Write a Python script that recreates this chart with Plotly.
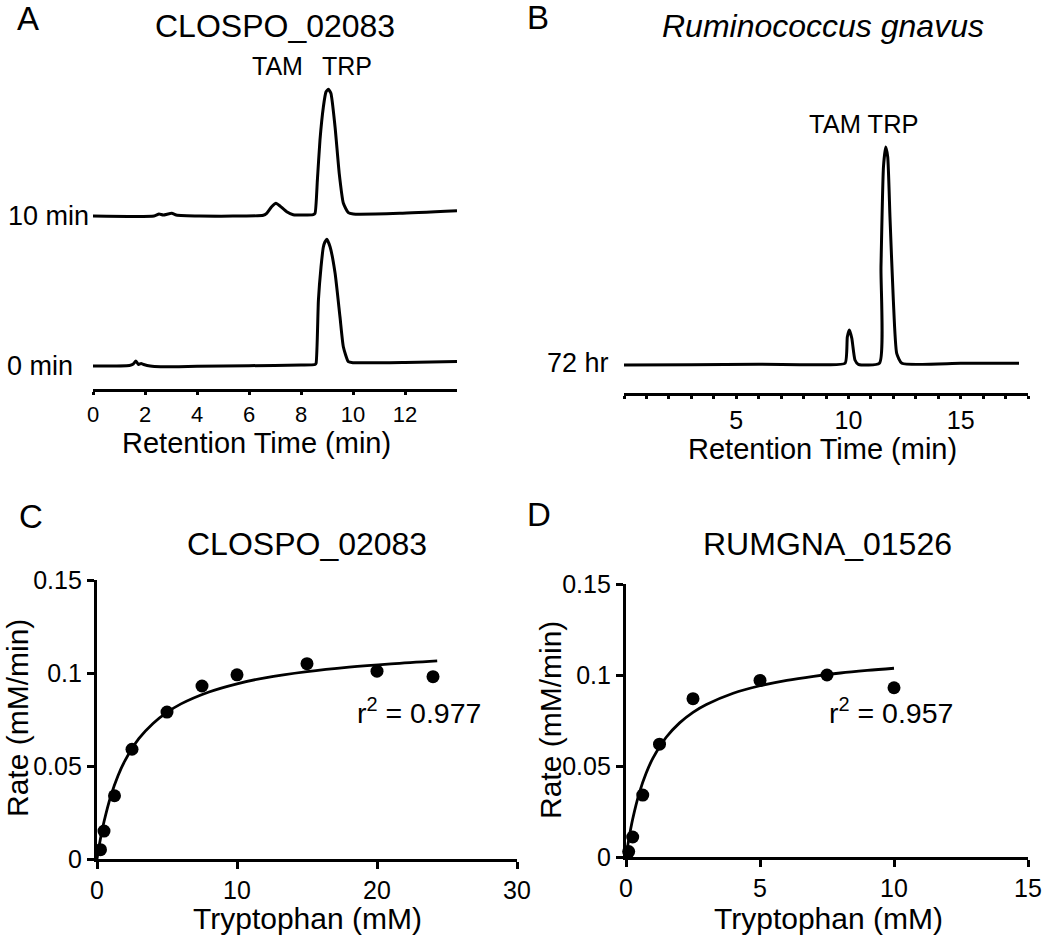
import plotly.graph_objects as go

# ---------------- DATA ----------------
# Panel A: HPLC traces (CLOSPO_02083), retention time (min) vs detector signal (a.u.)
a_time_0 = [0, 1.4, 1.55, 1.65, 1.75, 1.85, 1.95, 2.2, 2.6, 4, 6, 8, 8.54, 8.58, 8.67, 8.77, 8.86, 8.92,
            8.99, 9.12, 9.31, 9.5, 9.63, 9.82, 10.0, 12, 14]
a_sig_0 = [0, 0.5, 2, 5, 1.5, 2.5, 1.5, 0, -0.7, -0.3, 0.3, 1, 1.5, 2.7, 66, 99, 119, 124,
           126.7, 119, 93, 49, 19, 4.3, 3.3, 3.5, 4.5]
a_time_10 = [0, 2.35, 2.54, 2.7, 3.03, 3.2, 4.1, 6.55, 6.68, 6.87, 7.04, 7.19, 7.45, 7.7, 8.47, 8.54,
             8.63, 8.73, 8.86, 8.96, 9.05, 9.15, 9.31, 9.47, 9.63, 9.82, 10.01, 11.8, 14]
a_sig_10 = [0, 0, 2, 1, 2.7, 1, 0, 0.7, 2.7, 9.3, 12.7, 10, 4.3, 1.3, 1.3, 2.7,
            36, 76, 109, 124, 126.7, 122.7, 89, 42.7, 12.7, 3.3, 2, 2.7, 5.3]
a_trace_labels = ["0 min", "10 min"]
a_ticks = [0, 2, 4, 6, 8, 10, 12]

# Panel B: Ruminococcus gnavus, 72 hr
b_time = [0, 3, 6, 9, 9.85, 9.95, 10.04, 10.15, 10.29, 10.44, 11.38, 11.45, 11.56, 11.66, 11.75,
          11.85, 12.0, 12.15, 12.38, 15, 17.6]
b_sig = [0, 0.3, 0.7, 0.3, 1.7, 28, 35, 26.7, 5, 0.7, 1.7, 98, 198, 218, 208,
         148, 65, 11.7, 1.7, 1.7, 1.7]
b_ticks = [5, 10, 15]

# Panel C: CLOSPO_02083 kinetics
c_trp = [0.25, 0.5, 1.25, 2.5, 5, 7.5, 10, 15, 20, 24]
c_rate = [0.005, 0.015, 0.034, 0.059, 0.079, 0.093, 0.099, 0.105, 0.101, 0.098]
c_fit_x = [0, 0.25, 0.5, 1, 1.5, 2, 3, 4, 5, 6, 8, 10, 12, 15, 18, 21, 24.3]
c_fit_y = [0, 0.011, 0.020, 0.0342, 0.0448, 0.0529, 0.0648, 0.0729, 0.0788, 0.0834, 0.0898,
           0.0942, 0.0974, 0.1007, 0.1031, 0.1049, 0.1065]
c_r2 = "0.977"

# Panel D: RUMGNA_01526 kinetics
d_trp = [0.1, 0.25, 0.625, 1.25, 2.5, 5, 7.5, 10]
d_rate = [0.003, 0.011, 0.034, 0.062, 0.087, 0.097, 0.100, 0.093]
d_fit_x = [0, 0.1, 0.25, 0.5, 0.75, 1, 1.5, 2, 2.5, 3, 4, 5, 6, 7, 8, 9, 10]
d_fit_y = [0, 0.0094, 0.0209, 0.0354, 0.0460, 0.0542, 0.0658, 0.0737, 0.0795, 0.0838, 0.0900,
           0.0941, 0.0971, 0.0993, 0.1011, 0.1025, 0.1037]
d_r2 = "0.957"

kin_yticks = [0, 0.05, 0.1, 0.15]
kin_yticktext = ["0", "0.05", "0.1", "0.15"]

# ---------------- LAYOUT HELPERS ----------------
W, H = 1050, 936
FONT = "Liberation Sans, Arial, Helvetica, sans-serif"
A_OFFSET_10 = 150  # vertical stacking offset of the 10 min trace


def fx(px):
    return px / W


def fy(py):
    return 1 - py / H


fig = go.Figure()
LINE = dict(color="black", width=3)

# Panel A traces
fig.add_trace(go.Scatter(x=a_time_0, y=a_sig_0, mode="lines", line=dict(LINE, shape="spline", smoothing=0.5),
                         xaxis="x", yaxis="y", hoverinfo="skip"))
fig.add_trace(go.Scatter(x=a_time_10, y=[v + A_OFFSET_10 for v in a_sig_10], mode="lines",
                         line=dict(LINE, shape="spline", smoothing=0.5), xaxis="x", yaxis="y", hoverinfo="skip"))
# Panel B trace
fig.add_trace(go.Scatter(x=b_time, y=b_sig, mode="lines", line=dict(LINE, shape="spline", smoothing=0.5),
                         xaxis="x2", yaxis="y2", hoverinfo="skip"))
# Panel C
fig.add_trace(go.Scatter(x=c_fit_x, y=c_fit_y, mode="lines", line=dict(LINE, width=2.8, shape="spline"),
                         xaxis="x3", yaxis="y3", hoverinfo="skip", cliponaxis=False))
fig.add_trace(go.Scatter(x=c_trp, y=c_rate, mode="markers", marker=dict(color="black", size=13),
                         xaxis="x3", yaxis="y3", cliponaxis=False))
# Panel D
fig.add_trace(go.Scatter(x=d_fit_x, y=d_fit_y, mode="lines", line=dict(LINE, width=2.8, shape="spline"),
                         xaxis="x4", yaxis="y4", hoverinfo="skip", cliponaxis=False))
fig.add_trace(go.Scatter(x=d_trp, y=d_rate, mode="markers", marker=dict(color="black", size=13),
                         xaxis="x4", yaxis="y4", cliponaxis=False))

axis_common = dict(showgrid=False, zeroline=False, showline=True, linecolor="black", linewidth=3.2,
                   ticks="outside", tickcolor="black", tickwidth=2.5, automargin=False)

layout = dict(
    width=W, height=H, margin=dict(l=0, r=0, t=0, b=0, pad=0, autoexpand=False),
    paper_bgcolor="white", plot_bgcolor="white", showlegend=False,
    font=dict(family=FONT, color="black"),
    # Panel A
    xaxis=dict(axis_common, domain=[fx(93), fx(457)], range=[0, 14], anchor="y",
               tickvals=a_ticks, ticklen=3, tickfont=dict(size=22)),
    yaxis=dict(domain=[fy(389), fy(80)], range=[-23, 286], visible=False, anchor="x", automargin=False),
    # Panel B
    xaxis2=dict(axis_common, domain=[fx(624), fx(1028)], range=[0, 18], anchor="y2",
                tickvals=b_ticks, ticklen=3, tickfont=dict(size=25),
                minor=dict(dtick=1, tick0=0, ticks="outside", ticklen=3, tickwidth=2.5, tickcolor="black",
                           showgrid=False)),
    yaxis2=dict(domain=[fy(393), fy(130)], range=[-28, 235], visible=False, anchor="x2", automargin=False),
    # Panel C
    xaxis3=dict(axis_common, domain=[fx(97), fx(517)], range=[0, 30], anchor="y3",
                tickvals=[0, 10, 20, 30], ticklen=7, tickfont=dict(size=25)),
    yaxis3=dict(axis_common, domain=[fy(859), fy(580)], range=[0, 0.15], anchor="x3",
                tickvals=kin_yticks, ticktext=kin_yticktext, ticklen=7, tickfont=dict(size=25)),
    # Panel D
    xaxis4=dict(axis_common, domain=[fx(626), fx(1028)], range=[0, 15], anchor="y4",
                tickvals=[0, 5, 10, 15], ticklen=7, tickfont=dict(size=25)),
    yaxis4=dict(axis_common, domain=[fy(857), fy(584)], range=[0, 0.15], anchor="x4",
                tickvals=kin_yticks, ticktext=kin_yticktext, ticklen=7, tickfont=dict(size=25)),
)
fig.update_layout(**layout)


def ann(text, x, y, size, xanchor="center", yanchor="middle", angle=0, italic=False):
    fig.add_annotation(text=text, x=fx(x), y=fy(y), xref="paper", yref="paper", showarrow=False,
                       xanchor=xanchor, yanchor=yanchor, textangle=angle, borderpad=0,
                       font=dict(size=size, family=FONT, color="black",
                                 style="italic" if italic else "normal"))


# panel letters
ann("A", 16, 18, 33, xanchor="left")
ann("B", 526, 17, 33, xanchor="left")
ann("C", 18, 516, 33, xanchor="left")
ann("D", 526, 514, 33, xanchor="left")

# titles
ann("CLOSPO_02083", 275, 26, 32)
ann("Ruminococcus gnavus", 823, 26, 32, italic=True)
ann("CLOSPO_02083", 307, 544, 32)
ann("RUMGNA_01526", 827, 544, 32)

# panel A labels
ann("TAM", 277, 66, 25)
ann("TRP", 347, 66, 25)
ann(a_trace_labels[1], 7, 216, 27, xanchor="left")
ann(a_trace_labels[0], 6, 366, 27, xanchor="left")
ann("Retention Time (min)", 256, 443, 29)

# panel B labels
ann("TAM TRP", 864, 124, 25.5)
ann("72 hr", 546, 363, 27, xanchor="left")
ann("Retention Time (min)", 822, 449, 29)

# panel C / D labels
ann("r<sup>2</sup> = " + c_r2, 419, 711, 28.5)
ann("r<sup>2</sup> = " + d_r2, 891, 711, 28.5)
ann("Tryptophan (mM)", 307, 918, 30)
ann("Tryptophan (mM)", 828, 918, 30)
ann("Rate (mM/min)", 17, 718, 30, angle=-90)
ann("Rate (mM/min)", 550, 720, 30, angle=-90)

fig.write_html(
    "out.html",
    config={"displayModeBar": False},
    post_script=("var gd=document.getElementById('{plot_id}');"
                 "gd.style.position='fixed';gd.style.left='0px';gd.style.top='0px';"
                 "document.documentElement.style.margin='0';document.documentElement.style.overflow='hidden';"
                 "document.body.style.margin='0';document.body.style.padding='0';"
                 "document.body.style.overflow='hidden';"),
)
